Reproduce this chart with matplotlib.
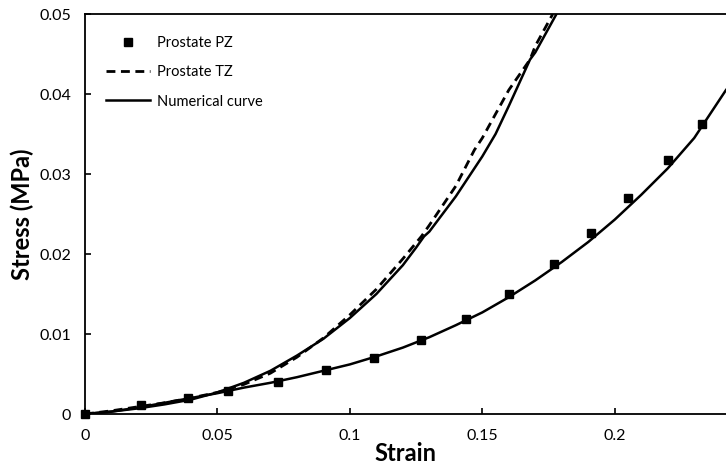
import matplotlib.pyplot as plt
from matplotlib.ticker import FixedLocator, FixedFormatter

plt.rcParams['font.family'] = ['Lato', 'DejaVu Sans']

# Prostate PZ measurements (markers)
pz_strain = [0, 0.021, 0.039, 0.054, 0.073, 0.091, 0.109, 0.127, 0.144,
             0.160, 0.177, 0.191, 0.205, 0.220, 0.233]
pz_stress = [0, 0.0011, 0.0020, 0.0029, 0.0040, 0.0055, 0.0070, 0.00925,
             0.0119, 0.0150, 0.0188, 0.0226, 0.0270, 0.0317, 0.0363]

# Prostate TZ measurements (dashed)
tz_strain = [0, 0.01, 0.02, 0.03, 0.04, 0.05, 0.06, 0.07, 0.08, 0.09,
             0.10, 0.11, 0.12, 0.127, 0.13, 0.14, 0.147, 0.15, 0.16,
             0.168, 0.17, 0.1766]
tz_stress = [0, 0.0004, 0.0009, 0.0014, 0.0020, 0.0027, 0.0037, 0.0051,
             0.0071, 0.0095, 0.0124, 0.0156, 0.0194, 0.0222, 0.0236, 0.0285,
             0.0330, 0.0345, 0.0405, 0.0443, 0.0460, 0.0500]

# Numerical fit, TZ
num_tz_strain = [0, 0.01, 0.02, 0.03, 0.04, 0.05, 0.06, 0.07, 0.08, 0.09,
                 0.10, 0.11, 0.12, 0.125, 0.128, 0.13, 0.14, 0.15, 0.155,
                 0.16, 0.168, 0.17, 0.178]
num_tz_stress = [0, 0.0003, 0.0007, 0.0012, 0.0018, 0.0027, 0.0039, 0.0054,
                 0.0073, 0.0094, 0.0120, 0.0150, 0.0186, 0.0208, 0.0222,
                 0.0228, 0.0272, 0.0322, 0.0350, 0.0385, 0.0443, 0.0452,
                 0.0500]

# Numerical fit, PZ
num_pz_strain = [0, 0.01, 0.02, 0.03, 0.04, 0.05, 0.06, 0.07, 0.08, 0.09,
                 0.10, 0.11, 0.12, 0.13, 0.14, 0.15, 0.16, 0.17, 0.18, 0.19,
                 0.20, 0.21, 0.22, 0.23, 0.242]
num_pz_stress = [0, 0.0003, 0.0008, 0.0014, 0.0020, 0.0026, 0.0033, 0.0039,
                 0.0046, 0.0054, 0.0062, 0.0072, 0.0083, 0.0096, 0.0111,
                 0.0127, 0.0146, 0.0167, 0.0190, 0.0215, 0.0243, 0.0274,
                 0.0307, 0.0345, 0.0405]

x_ticks = [0, 0.05, 0.1, 0.15, 0.2]
x_labels = ['0', '0.05', '0.1', '0.15', '0.2']
y_ticks = [0, 0.01, 0.02, 0.03, 0.04, 0.05]
y_labels = ['0', '0.01', '0.02', '0.03', '0.04', '0.05']

fig = plt.figure(figsize=(7.26, 4.65), dpi=100)
ax = fig.add_axes([85 / 726, 1 - 414 / 465, 1 - 85 / 726, 400 / 465])

ax.plot(num_pz_strain, num_pz_stress, color='black', lw=1.8)
ax.plot(tz_strain, tz_stress, color='black', lw=2.0, ls=(0, (3.2, 2.0)),
        label='Prostate TZ')
ax.plot(num_tz_strain, num_tz_stress, color='black', lw=1.8,
        label='Numerical curve')
ax.plot(pz_strain, pz_stress, ls='none', marker='s', ms=6.3, color='black',
        label='Prostate PZ', zorder=5, clip_on=False)

ax.set_xlim(0, 0.242)
ax.set_ylim(0, 0.05)

ax.xaxis.set_major_locator(FixedLocator(x_ticks))
ax.xaxis.set_major_formatter(FixedFormatter(x_labels))
ax.yaxis.set_major_locator(FixedLocator(y_ticks))
ax.yaxis.set_major_formatter(FixedFormatter(y_labels))
ax.tick_params(direction='in', length=4, width=1.2, labelsize=11.5,
               color='black')
ax.tick_params(axis='x', pad=11)
ax.tick_params(axis='y', pad=10)

for side in ['left', 'bottom', 'top']:
    ax.spines[side].set_linewidth(1.3)
ax.spines['right'].set_visible(False)

ax.set_xlabel('Strain', fontsize=17, fontweight='bold', labelpad=-1)
ax.set_ylabel('Stress (MPa)', fontsize=17, fontweight='bold', labelpad=4)

handles, labels = ax.get_legend_handles_labels()
order = [2, 0, 1]
ax.legend([handles[i] for i in order], [labels[i] for i in order],
          loc='upper left', bbox_to_anchor=(0.013, 0.978), frameon=False,
          fontsize=10.5, handlelength=3.0, handletextpad=0.5,
          labelspacing=1.05)

fig.savefig('out.png', dpi=100)
